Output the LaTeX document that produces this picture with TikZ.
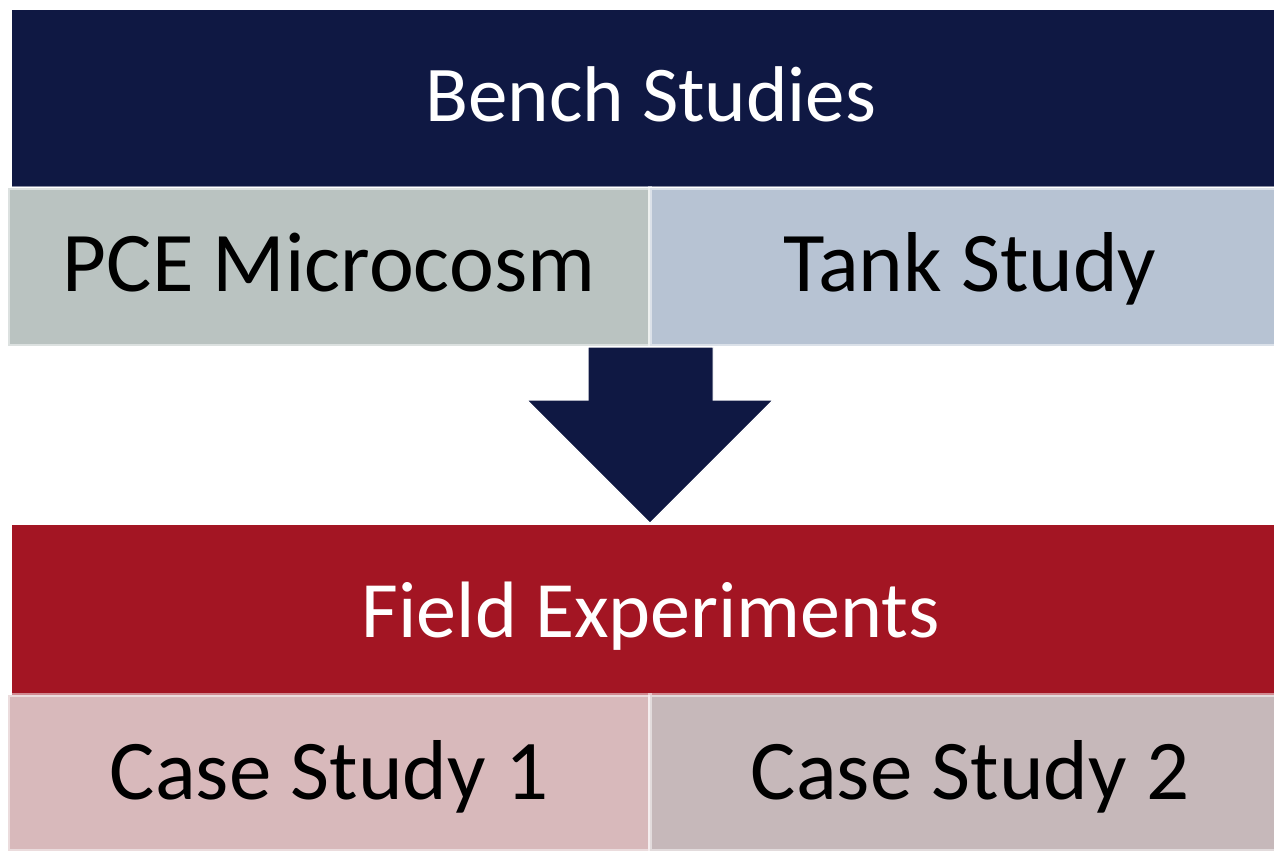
\documentclass[tikz,border=0pt]{standalone}
\usepackage{fontspec}
\setmainfont{Carlito}
\definecolor{navy}{HTML}{0F1843}
\definecolor{crimson}{HTML}{A31523}
\definecolor{pcegray}{HTML}{BAC3C1}
\definecolor{tankblue}{HTML}{B7C3D3}
\definecolor{caseone}{HTML}{D8B9BB}
\definecolor{casetwo}{HTML}{C6B8BA}
\tikzset{
  headbox/.style={rectangle, inner sep=0pt, outer sep=0pt, text=white,
    font=\fontsize{79}{90}\selectfont, minimum width=1278pt, text depth=0pt},
  subbox/.style={rectangle, inner sep=0pt, outer sep=0pt, text=black,
    draw=white, draw opacity=0.5, line width=4pt,
    font=\fontsize{85}{97}\selectfont, minimum width=642pt, text depth=0pt},
  bigarrow/.style={fill=navy, draw=white, line width=1pt, line join=miter}
}
\begin{document}
\begin{tikzpicture}[x=1pt,y=-1pt]
\clip (0,0) rectangle (1274,852);
\fill[white] (0,0) rectangle (1274,852);
% top header
\node[headbox, fill=navy, minimum height=177pt, text height=45pt] (bench) at (651,98.5) {Bench Studies};
% sub boxes
\node[subbox, fill=pcegray, minimum height=158pt, text height=48pt] (pce) at (329,267) {PCE Microcosm};
\node[subbox, fill=tankblue, minimum height=158pt, text height=48pt, minimum width=640pt] (tank) at (970,267) {Tank Study};
% arrow
\coordinate (atip) at (650,523);
\draw[bigarrow] (588,347) -- (713,347) -- (713,400) -- (773,400) -- (atip) -- (527,400) -- (588,400) -- cycle;
% field header
\node[headbox, fill=crimson, minimum height=170pt, text height=54pt, font=\fontsize{80}{90}\selectfont] (field) at (651,610) {Field Experiments};
\node[subbox, fill=caseone, minimum height=156pt, text height=52pt] (case1) at (329,773) {Case Study 1};
\node[subbox, fill=casetwo, minimum height=156pt, text height=52pt, minimum width=640pt] (case2) at (970,773) {Case Study 2};
\end{tikzpicture}
\end{document}
